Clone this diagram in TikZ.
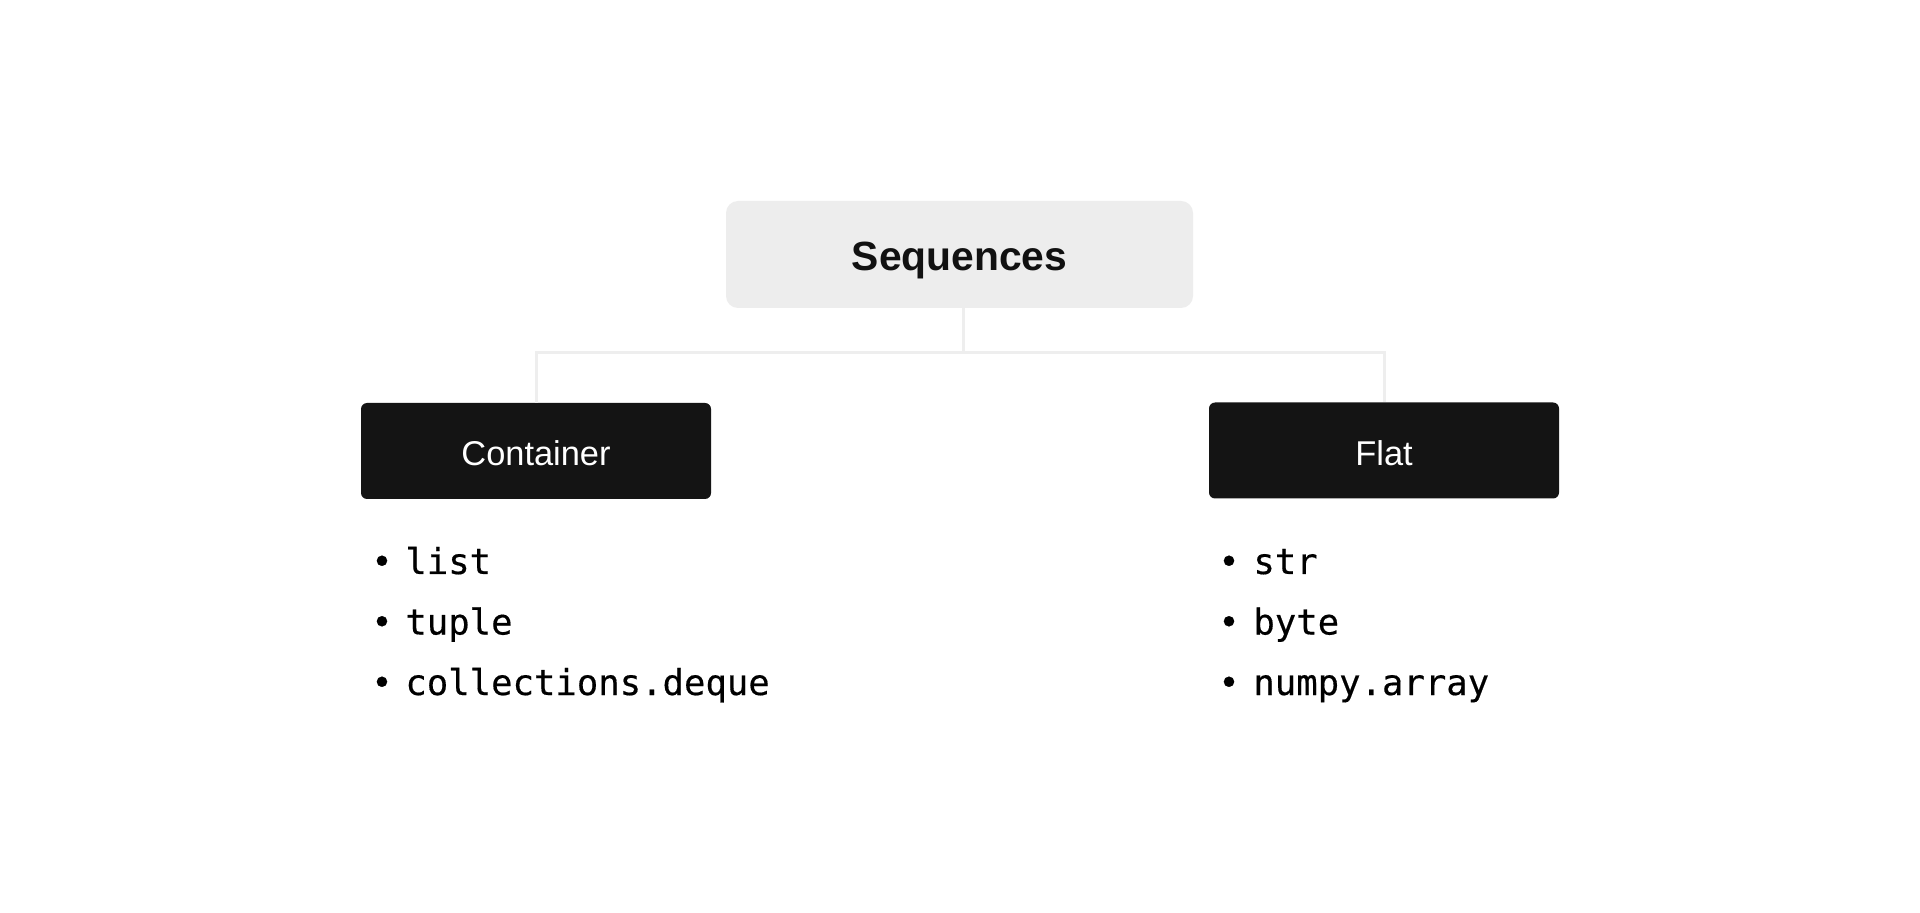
\documentclass[tikz,border=0pt]{standalone}
\usepackage{fontspec}
\setmainfont{Liberation Sans}
\newfontfamily\codefont[FakeBold=0.4]{DejaVu Sans Mono}
\definecolor{boxgray}{HTML}{EDEDED}
\definecolor{boxblack}{HTML}{141414}
\definecolor{txt}{HTML}{111111}
\definecolor{linegray}{HTML}{EEEEEE}
\tikzset{
  rootbox/.style={fill=boxgray, rounded corners=6pt, minimum width=233.5pt, minimum height=53.5pt,
    inner sep=0pt, text=txt, font=\fontsize{20.4}{24}\selectfont\bfseries, text height=16.5pt, text depth=0pt},
  catbox/.style={fill=boxblack, rounded corners=3pt, minimum width=175pt, minimum height=48pt,
    inner sep=0pt, text=white, font=\fontsize{17.2}{20}\selectfont, text height=15pt, text depth=0pt},
  conn/.style={draw=linegray, line width=1.5pt},
  item/.style={anchor=base west, inner sep=0pt, text=black, font=\codefont\fontsize{17.8}{20}\selectfont},
  bul/.style={anchor=base, inner sep=0pt, text=black, font=\codefont\fontsize{17.8}{20}\selectfont}
}
\begin{document}
\begin{tikzpicture}[x=0.5pt,y=-0.5pt]
\useasboundingbox[fill=white] (0,0) rectangle (1920,913);
\node[rootbox] (seq) at (959.5,254.5) {Sequences};
\node[catbox] (cont) at (536,451) {Container};
\node[catbox] (flat) at (1384,450.5) {Flat};
\coordinate (j) at (963,353);
\draw[conn] (seq.south -| j) -- (j);
\draw[conn] (cont.north) |- (j) -| (flat.north);
% Container items
\node[bul] (cb1) at (382,574) {•};
\node[item] (c1) at (405,574) {list};
\node[bul] (cb2) at (382,634.5) {•};
\node[item] (c2) at (405,634.5) {tuple};
\node[bul] (cb3) at (382,695) {•};
\node[item] (c3) at (405,695) {collections.deque};
% Flat items
\node[bul] (fb1) at (1229,574) {•};
\node[item] (f1) at (1253,574) {str};
\node[bul] (fb2) at (1229,634.5) {•};
\node[item] (f2) at (1253,634.5) {byte};
\node[bul] (fb3) at (1229,695) {•};
\node[item] (f3) at (1253,695) {numpy.array};
\end{tikzpicture}
\end{document}
